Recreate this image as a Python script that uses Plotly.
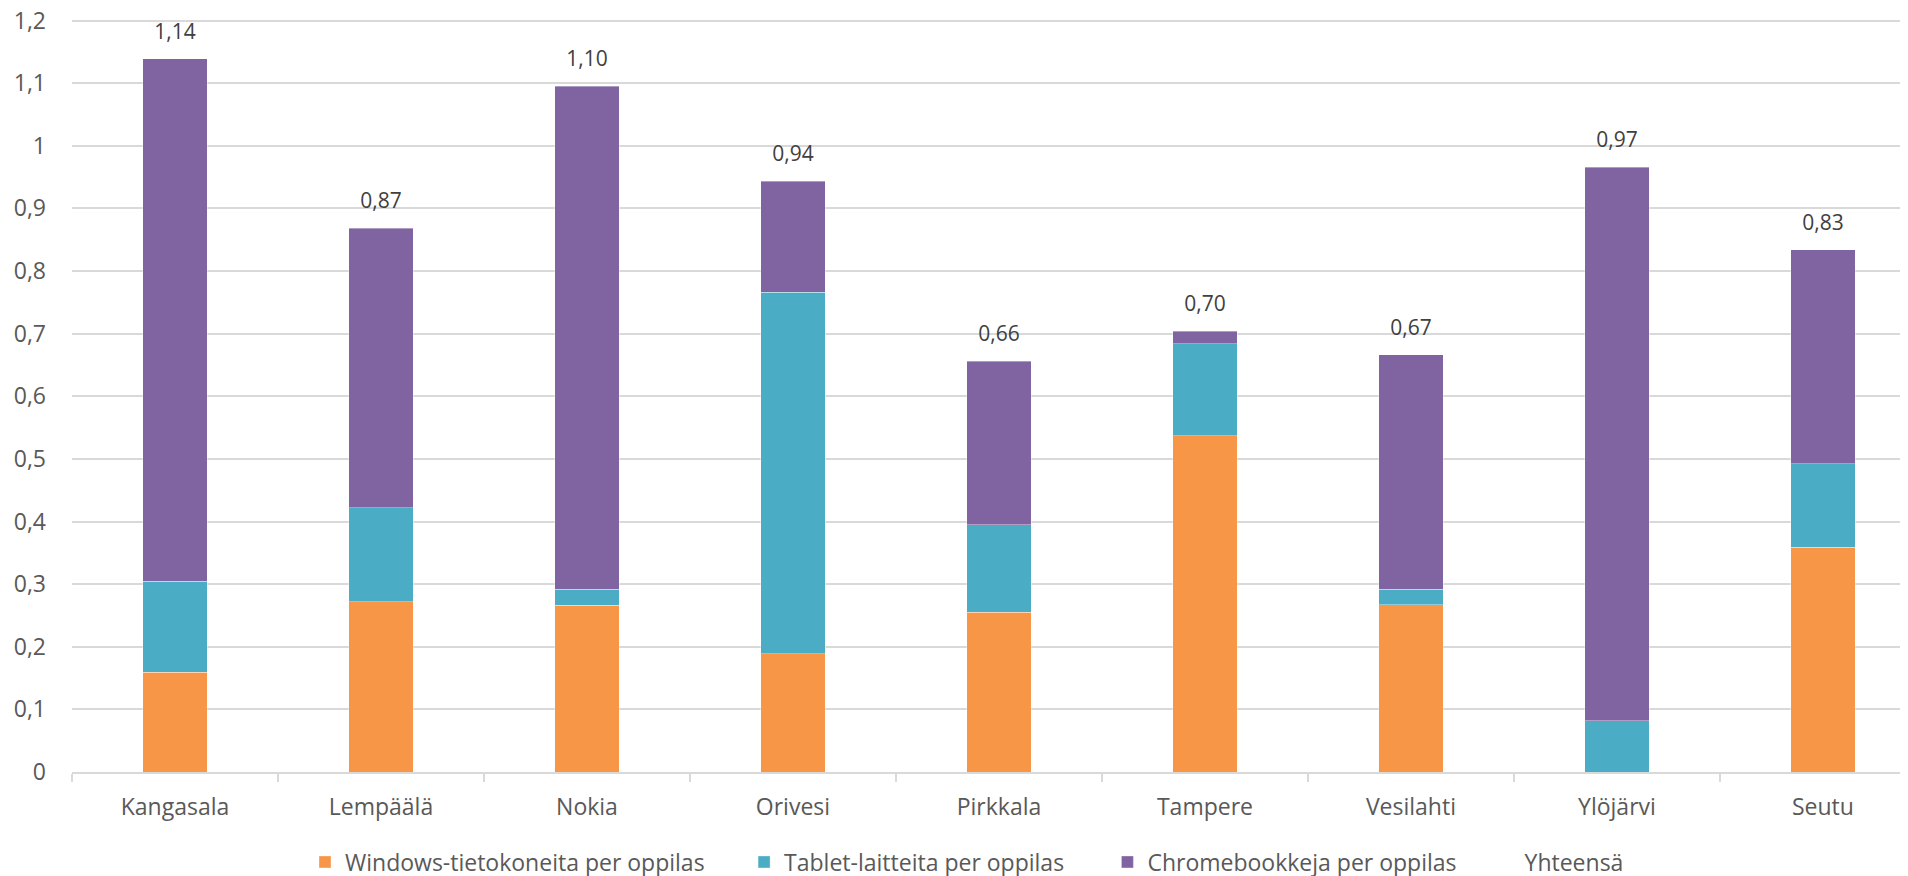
import plotly.graph_objects as go

categories = ["Kangasala", "Lempäälä", "Nokia", "Orivesi", "Pirkkala",
              "Tampere", "Vesilahti", "Ylöjärvi", "Seutu"]
windows = [0.159, 0.272, 0.266, 0.189, 0.255, 0.537, 0.267, 0.0, 0.359]
tablet = [0.146, 0.150, 0.026, 0.577, 0.140, 0.147, 0.025, 0.082, 0.133]
chrome = [0.834, 0.446, 0.803, 0.177, 0.261, 0.020, 0.374, 0.884, 0.342]
series_names = ["Windows-tietokoneita per oppilas", "Tablet-laitteita per oppilas",
                "Chromebookkeja per oppilas", "Yhteensä"]
colors = ["#F79646", "#4BACC6", "#8064A2"]
ytick_vals = [0, 0.1, 0.2, 0.3, 0.4, 0.5, 0.6, 0.7, 0.8, 0.9, 1.0, 1.1, 1.2]
ytick_text = ["0", "0,1", "0,2", "0,3", "0,4", "0,5", "0,6", "0,7", "0,8",
              "0,9", "1", "1,1", "1,2"]

totals = [w + t + c for w, t, c in zip(windows, tablet, chrome)]
total_labels = [f"{v:.2f}".replace(".", ",") for v in totals]

FONT = "Open Sans"
W, H = 1900, 868  # page body adds an 8px offset
# invisible trailing spacing to widen the gaps between legend entries
pads = ["\u2002\u2002\u2002", "\u2002\u2002\u2002\u2009", "\u2002\u2002"]
fig = go.Figure()
for vals, name, col, pad in zip([windows, tablet, chrome], series_names[:3], colors, pads):
    fig.add_trace(go.Bar(
        x=categories, y=vals, name=name + pad,
        marker=dict(color=col, line=dict(color="rgba(255,255,255,0.6)", width=0.6)),
    ))

fig.add_trace(go.Scatter(
    x=categories, y=totals, name=series_names[3],
    mode="markers+text", text=total_labels, textposition="top center",
    marker=dict(size=22, color="rgba(0,0,0,0)"),
    textfont=dict(family=FONT, size=21, color="#404040"),
    cliponaxis=False, hoverinfo="skip",
))

fig.update_layout(
    width=W, height=H,
    barmode="stack", bargap=0.688,
    plot_bgcolor="white", paper_bgcolor="white",
    margin=dict(l=64, r=0, t=9.5, b=104.3, autoexpand=False),
    font=dict(family=FONT, size=23, color="#595959"),
    showlegend=True,
    legend=dict(orientation="h", xref="container", yref="container",
                x=297 / W, xanchor="left", y=1 - 854 / H, yanchor="middle",
                font=dict(family=FONT, size=23, color="#595959"),
                itemwidth=30, traceorder="normal",
                bgcolor="rgba(0,0,0,0)"),
    xaxis=dict(
        range=[-0.5, 8.413], showgrid=False, showline=True,
        linecolor="#D9D9D9", linewidth=1.5, automargin=False,
        ticks="outside", tickson="boundaries", ticklen=8, tickcolor="#D9D9D9",
        tickwidth=1.5, ticklabelstandoff=14,
        tickfont=dict(family=FONT, size=23, color="#595959"),
    ),
    yaxis=dict(
        range=[0, 1.204], tickvals=ytick_vals, ticktext=ytick_text,
        showgrid=True, gridcolor="#D9D9D9", gridwidth=1.5, automargin=False,
        zeroline=False, showline=False, ticks="", ticklabelstandoff=25,
        ticklabeloverflow="allow",
        tickfont=dict(family=FONT, size=23, color="#595959"),
    ),
)

fig.write_html("out.html")
